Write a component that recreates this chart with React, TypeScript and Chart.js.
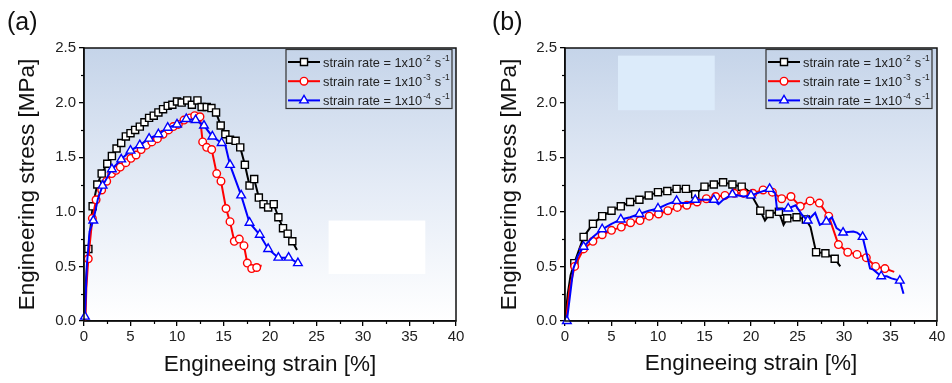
import React, { useEffect, useRef } from 'react';
import { Chart, registerables } from 'chart.js';

Chart.register(...registerables);

type P = [number, number];

const FONT = '"Liberation Sans", Arial, Helvetica, sans-serif';

// ---------- axes ----------
const xTickValues = [0, 5, 10, 15, 20, 25, 30, 35, 40];
const xMinorTicks = [2.5, 7.5, 12.5, 17.5, 22.5, 27.5, 32.5, 37.5];
const yTickValues = [0, 0.5, 1.0, 1.5, 2.0, 2.5];
const yMinorTicks = [0.25, 0.75, 1.25, 1.75, 2.25];
const xTitle = 'Engineeing strain [%]';
const yTitle = 'Engineering stress [MPa]';

// ---------- legend ----------
const legendBase = 'strain rate = 1x10';
const rateExponents = ['-2', '-3', '-4'];
const legendUnit = 's';
const unitExponent = '-1';

// ---------- panel (a) ----------
const aBlackMarks: P[] = [
  [0.47, 0.66], [0.93, 1.05], [1.43, 1.25], [1.9, 1.35], [2.5, 1.44], [3.0, 1.51], [3.5, 1.58],
  [4.0, 1.63], [4.5, 1.69], [5.0, 1.72], [5.5, 1.75], [6.0, 1.78], [6.5, 1.82], [7.0, 1.86],
  [7.5, 1.88], [8.0, 1.91], [8.5, 1.94], [9.0, 1.97], [9.5, 1.98], [10.0, 2.01], [10.5, 2.0],
  [11.1, 2.02], [11.6, 1.98], [12.2, 2.02], [12.65, 1.96], [13.2, 1.96], [13.7, 1.95], [14.2, 1.91],
  [14.7, 1.79], [15.2, 1.71], [15.7, 1.66], [16.3, 1.65], [16.8, 1.59], [17.3, 1.43], [17.8, 1.24],
  [18.3, 1.30], [18.8, 1.13], [19.3, 1.07], [19.8, 1.04], [20.4, 1.07], [20.9, 0.95], [21.4, 0.85],
  [21.9, 0.80], [22.4, 0.73],
];
const aBlackExtra: P[] = [[0, 0], [0.2, 0.35], [22.9, 0.65]];

const aRedMarks: P[] = [
  [0.46, 0.57], [0.9, 0.94], [1.3, 1.11], [1.9, 1.20], [2.44, 1.28], [2.98, 1.35], [3.45, 1.38],
  [3.9, 1.41], [4.5, 1.45], [5.05, 1.49], [5.6, 1.52], [6.15, 1.57], [6.7, 1.61], [7.3, 1.64],
  [7.9, 1.67], [8.5, 1.71], [9.1, 1.75], [9.6, 1.78], [10.14, 1.80], [10.75, 1.84], [11.4, 1.86],
  [11.9, 1.88], [12.47, 1.87], [12.76, 1.64], [13.19, 1.59], [13.73, 1.57], [14.27, 1.35],
  [14.73, 1.28], [15.27, 1.03], [15.7, 0.91], [16.16, 0.73], [16.7, 0.75], [17.2, 0.69],
  [17.56, 0.53], [18.03, 0.48], [18.57, 0.49],
];
const aRedExtra: P[] = [[0.15, 0], [0.25, 0.3], [19.1, 0.51]];

const aBlueMarks: P[] = [
  [0.1, 0.04], [1.0, 0.92], [2.0, 1.24], [3.0, 1.39], [4.0, 1.48], [5.0, 1.56], [6.0, 1.61],
  [7.0, 1.67], [8.0, 1.71], [9.0, 1.77], [10.0, 1.80], [11.0, 1.85], [12.0, 1.84], [12.9, 1.79],
  [13.8, 1.69], [14.8, 1.63], [15.7, 1.43], [16.9, 1.15], [17.8, 0.90], [18.9, 0.79], [19.8, 0.66],
  [20.9, 0.58], [22.0, 0.58], [23.0, 0.53],
];
const aBlueExtra: P[] = [[0.3, 0.5], [0.6, 0.82], [1.5, 1.12], [15.2, 1.61]];

// ---------- panel (b) ----------
const bBlackMarks: P[] = [
  [1.0, 0.53], [2.0, 0.77], [3.0, 0.89], [4.0, 0.96], [5.0, 1.01], [6.0, 1.05], [7.0, 1.09],
  [8.0, 1.11], [9.0, 1.15], [10.0, 1.18], [11.0, 1.19], [12.0, 1.21], [13.0, 1.21], [14.0, 1.16],
  [15.0, 1.23], [16.0, 1.25], [17.0, 1.27], [18.0, 1.25], [19.0, 1.23], [20.0, 1.16], [21.0, 1.01],
  [22.0, 0.98], [23.0, 1.0], [23.9, 0.94], [24.9, 0.95], [25.9, 0.93], [27.0, 0.63], [28.0, 0.62],
  [29.0, 0.57],
];
const bBlackExtra: P[] = [
  [0, 0], [0.3, 0.25], [0.6, 0.42], [19.6, 1.2], [21.5, 0.92], [23.5, 0.88], [26.4, 0.86], [29.6, 0.50],
];

const bRedMarks: P[] = [
  [1.04, 0.50], [2.0, 0.66], [3.0, 0.73], [4.0, 0.79], [5.0, 0.83], [6.05, 0.86], [7.05, 0.90],
  [8.06, 0.92], [9.06, 0.96], [10.06, 0.98], [11.06, 1.01], [12.07, 1.04], [13.1, 1.06], [14.2, 1.09],
  [15.2, 1.12], [16.2, 1.14], [17.2, 1.15], [18.2, 1.17], [19.2, 1.17], [20.2, 1.17], [21.3, 1.20],
  [22.3, 1.18], [23.3, 1.12], [24.3, 1.14], [25.3, 1.05], [26.35, 1.10], [27.35, 1.08], [28.36, 0.96],
  [29.4, 0.70], [30.4, 0.63], [31.4, 0.61], [32.4, 0.58], [33.4, 0.50], [34.4, 0.48],
];
const bRedExtra: P[] = [[0.1, 0], [0.5, 0.3], [35.4, 0.45]];

const bBlueMarks: P[] = [
  [0.2, 0.0], [2.0, 0.68], [4.0, 0.84], [6.0, 0.93], [8.0, 0.98], [10.0, 1.03], [12.0, 1.10],
  [14.0, 1.11], [16.0, 1.11], [18.0, 1.16], [20.0, 1.15], [22.0, 1.21], [24.0, 1.03], [26.1, 0.92],
  [28.1, 0.91], [29.9, 0.81], [32.0, 0.77], [34.0, 0.41], [36.0, 0.37],
];
const bBlueExtra: P[] = [
  [0.9, 0.48], [1.4, 0.6], [3.0, 0.77], [5.0, 0.89], [7.0, 0.95], [9.0, 1.01], [11.0, 1.07],
  [12.6, 1.08], [13.2, 1.08], [15.0, 1.11], [16.5, 1.07], [17.0, 1.11], [19.2, 1.14], [21.0, 1.18],
  [22.6, 1.17], [22.8, 1.02], [24.8, 1.06], [25.5, 0.97], [26.9, 0.99], [27.4, 0.88], [28.7, 0.95],
  [29.2, 0.85], [31.0, 0.82], [31.4, 0.81], [32.4, 0.63], [32.8, 0.48], [33.15, 0.47], [34.6, 0.41],
  [35.1, 0.39], [36.4, 0.25],
];

// image patches visible in the reference plot backgrounds (data coords)
const patchA = { x: [26.3, 36.7], y: [0.43, 0.92], color: '#ffffff' };
const patchB = { x: [5.7, 16.1], y: [1.93, 2.43], color: '#dcebfa' };

const seriesStyles = [
  { color: '#000000', shape: 'rect', r: 5 },
  { color: '#ff0000', shape: 'circle', r: 3.8 },
  { color: '#0000ff', shape: 'triangle', r: 5 },
];

function buildPoints(marks: P[], extras: P[]) {
  return [
    ...marks.map(([x, y]) => ({ x, y, m: true })),
    ...extras.map(([x, y]) => ({ x, y, m: false })),
  ].sort((a, b) => a.x - b.x);
}

function drawMarker(ctx: CanvasRenderingContext2D, shape: string, x: number, y: number, r: number) {
  ctx.beginPath();
  if (shape === 'rect') {
    const s = Math.SQRT1_2 * r;
    ctx.rect(x - s, y - s, 2 * s, 2 * s);
  } else if (shape === 'circle') {
    ctx.arc(x, y, r, 0, Math.PI * 2);
  } else {
    let rad = 0;
    ctx.moveTo(x + Math.sin(rad) * r, y - Math.cos(rad) * r);
    rad += (Math.PI * 2) / 3;
    ctx.lineTo(x + Math.sin(rad) * r, y - Math.cos(rad) * r);
    rad += (Math.PI * 2) / 3;
    ctx.lineTo(x + Math.sin(rad) * r, y - Math.cos(rad) * r);
    ctx.closePath();
  }
  ctx.fill();
  ctx.stroke();
}

const bgPlugin = {
  id: 'bgPlugin',
  beforeDraw(chart: any, _a: any, opts: any) {
    const { ctx, chartArea: ca, scales } = chart;
    ctx.save();
    const g = ctx.createLinearGradient(0, ca.top, 0, ca.bottom);
    g.addColorStop(0, '#c5d4e9');
    g.addColorStop(0.5, '#e4ebf6');
    g.addColorStop(1, '#ffffff');
    ctx.fillStyle = g;
    ctx.fillRect(ca.left, ca.top, ca.right - ca.left, ca.bottom - ca.top);
    const p = opts.patch;
    if (p) {
      const x1 = scales.x.getPixelForValue(p.x[0]);
      const x2 = scales.x.getPixelForValue(p.x[1]);
      const y1 = scales.y.getPixelForValue(p.y[1]);
      const y2 = scales.y.getPixelForValue(p.y[0]);
      ctx.fillStyle = p.color;
      ctx.fillRect(x1, y1, x2 - x1, y2 - y1);
    }
    // panel label
    ctx.fillStyle = '#111';
    ctx.font = `25px ${FONT}`;
    ctx.textBaseline = 'alphabetic';
    ctx.textAlign = 'left';
    ctx.fillText(opts.label, opts.labelX, 30);
    ctx.restore();
  },
};

const decorPlugin = {
  id: 'decorPlugin',
  afterDraw(chart: any, _a: any, opts: any) {
    const { ctx, chartArea: ca, scales } = chart;
    ctx.save();
    // frame
    ctx.strokeStyle = '#111';
    ctx.lineWidth = 1.5;
    ctx.strokeRect(ca.left, ca.top, ca.right - ca.left, ca.bottom - ca.top);
    // minor ticks
    ctx.strokeStyle = '#000';
    ctx.lineWidth = 1.2;
    xMinorTicks.forEach((v) => {
      const px = Math.round(scales.x.getPixelForValue(v)) + 0.5;
      ctx.beginPath();
      ctx.moveTo(px, ca.bottom);
      ctx.lineTo(px, ca.bottom + 3);
      ctx.stroke();
    });
    yMinorTicks.forEach((v) => {
      const py = Math.round(scales.y.getPixelForValue(v)) + 0.5;
      ctx.beginPath();
      ctx.moveTo(ca.left, py);
      ctx.lineTo(ca.left - 3, py);
      ctx.stroke();
    });

    // legend
    const w = 166;
    const h = 59;
    const x0 = ca.right - opts.rightGap - w;
    const y0 = ca.top + 1.5;
    ctx.strokeStyle = '#333';
    ctx.lineWidth = 1.2;
    ctx.strokeRect(x0, y0, w, h);
    seriesStyles.forEach((s, i) => {
      const cy = y0 + 12.5 + i * 19.2;
      ctx.strokeStyle = s.color;
      ctx.lineWidth = 2;
      ctx.beginPath();
      ctx.moveTo(x0 + 2, cy);
      ctx.lineTo(x0 + 34, cy);
      ctx.stroke();
      ctx.fillStyle = '#ffffff';
      ctx.lineWidth = 1.4;
      drawMarker(ctx, s.shape, x0 + 18, cy, s.r);
      ctx.fillStyle = '#222';
      ctx.textAlign = 'left';
      ctx.textBaseline = 'alphabetic';
      let tx = x0 + 37;
      const base = cy + 4.5;
      ctx.font = `12.8px ${FONT}`;
      ctx.fillText(legendBase, tx, base);
      tx += ctx.measureText(legendBase).width + 1;
      ctx.font = `8.5px ${FONT}`;
      ctx.fillText(rateExponents[i], tx, base - 5.5);
      tx += ctx.measureText(rateExponents[i]).width + 4;
      ctx.font = `12.8px ${FONT}`;
      ctx.fillText(legendUnit, tx, base);
      tx += ctx.measureText(legendUnit).width + 1;
      ctx.font = `8.5px ${FONT}`;
      ctx.fillText(unitExponent, tx, base - 5.5);
    });
    ctx.restore();
  },
};

type PanelCfg = {
  label: string;
  labelX: number;
  yWidth: number;
  padRight: number;
  yTitlePad: number;
  xTitlePad: number;
  legendGap: number;
  patch: any;
  series: { marks: P[]; extra: P[] }[];
};

const panelA: PanelCfg = {
  label: '(a)', labelX: 7, yWidth: 84, padRight: 20, yTitlePad: 14.5, xTitlePad: 4.5, legendGap: 4,
  patch: patchA,
  series: [
    { marks: aBlackMarks, extra: aBlackExtra },
    { marks: aRedMarks, extra: aRedExtra },
    { marks: aBlueMarks, extra: aBlueExtra },
  ],
};

const panelB: PanelCfg = {
  label: '(b)', labelX: 16, yWidth: 89, padRight: 15, yTitlePad: 19.8, xTitlePad: 6, legendGap: 5,
  patch: patchB,
  series: [
    { marks: bBlackMarks, extra: bBlackExtra },
    { marks: bRedMarks, extra: bRedExtra },
    { marks: bBlueMarks, extra: bBlueExtra },
  ],
};

function Panel({ cfg }: { cfg: PanelCfg }) {
  const ref = useRef<HTMLCanvasElement>(null);
  useEffect(() => {
    const datasets = cfg.series.map((s, i) => {
      const st = seriesStyles[i];
      return {
        label: `${legendBase}${rateExponents[i]}`,
        data: buildPoints(s.marks, s.extra),
        borderColor: st.color,
        borderWidth: 2,
        pointStyle: st.shape,
        pointRadius: (c: any) => (c.raw && c.raw.m ? st.r : 0),
        pointHoverRadius: (c: any) => (c.raw && c.raw.m ? st.r : 0),
        pointBorderWidth: 1.4,
        pointBorderColor: st.color,
        pointBackgroundColor: '#ffffff',
        tension: 0,
        clip: 6,
        order: 3 - i,
      };
    });
    const chart = new Chart(ref.current!, {
      type: 'line',
      data: { datasets } as any,
      options: {
        animation: false,
        responsive: false,
        events: [],
        layout: { padding: { top: 48, right: cfg.padRight, left: 0, bottom: 0 } },
        plugins: {
          legend: { display: false },
          tooltip: { enabled: false },
          bgPlugin: { patch: cfg.patch, label: cfg.label, labelX: cfg.labelX },
          decorPlugin: { rightGap: cfg.legendGap },
        } as any,
        scales: {
          x: {
            type: 'linear',
            min: 0,
            max: 40,
            afterBuildTicks: (s: any) => { s.ticks = xTickValues.map((value) => ({ value })); },
            afterFit: (s: any) => { s.height = 62; },
            ticks: { font: { family: FONT, size: 15 }, color: '#222', padding: 2, maxRotation: 0, autoSkip: false,
              callback: (v: any) => String(v) },
            grid: { drawOnChartArea: false, tickLength: 5, color: '#000', lineWidth: 1.3 },
            border: { color: '#000', width: 1.5 },
            title: { display: true, text: xTitle, font: { family: FONT, size: 22.5 }, color: '#111',
              padding: { top: 0, bottom: cfg.xTitlePad } },
          },
          y: {
            type: 'linear',
            min: 0,
            max: 2.5,
            afterBuildTicks: (s: any) => { s.ticks = yTickValues.map((value) => ({ value })); },
            afterFit: (s: any) => { s.width = cfg.yWidth; },
            ticks: { font: { family: FONT, size: 15 }, color: '#222', padding: 3, autoSkip: false,
              callback: (v: any) => Number(v).toFixed(1) },
            grid: { drawOnChartArea: false, tickLength: 5, color: '#000', lineWidth: 1.3 },
            border: { color: '#000', width: 1.5 },
            title: { display: true, text: yTitle, font: { family: FONT, size: 22.5 }, color: '#111',
              padding: { top: cfg.yTitlePad, bottom: 0 } },
          },
        },
      } as any,
      plugins: [bgPlugin, decorPlugin] as any,
    });
    return () => chart.destroy();
  }, []);
  return (
    <div style={{ width: 476, height: 383, position: 'relative' }}>
      <canvas ref={ref} width={476} height={383} style={{ width: 476, height: 383, display: 'block' }} />
    </div>
  );
}

export default function App() {
  return (
    <div style={{ position: 'fixed', left: 0, top: 0, width: 952, height: 383, display: 'flex', background: '#ffffff' }}>
      <Panel cfg={panelA} />
      <Panel cfg={panelB} />
    </div>
  );
}
